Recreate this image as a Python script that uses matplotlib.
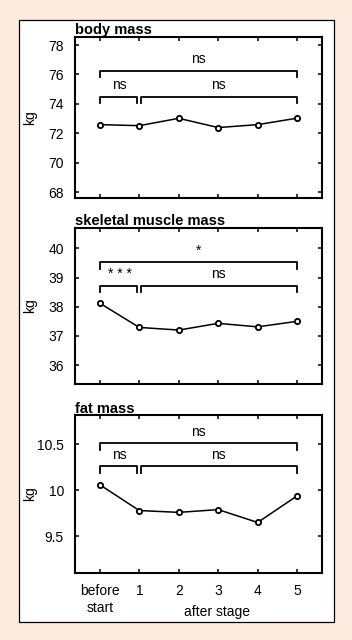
import matplotlib.pyplot as plt
from matplotlib.patches import Rectangle

plt.rcParams['font.family'] = ['Liberation Sans', 'DejaVu Sans']

# data
x_labels = ['before\nstart', '1', '2', '3', '4', '5']
body_mass = [72.59, 72.52, 73.02, 72.39, 72.59, 73.03]
muscle_mass = [38.12, 37.29, 37.2, 37.43, 37.31, 37.5]
fat_mass = [10.06, 9.78, 9.76, 9.79, 9.65, 9.94]

titles = ['body mass', 'skeletal muscle mass', 'fat mass']
series = [body_mass, muscle_mass, fat_mass]
ylims = [(67.6, 78.55), (35.35, 40.7), (9.1, 10.82)]
yticks = [[68, 70, 72, 74, 76, 78], [36, 37, 38, 39, 40], [9.5, 10, 10.5]]
ytlabels = [['68', '70', '72', '74', '76', '78'], ['36', '37', '38', '39', '40'], ['9.5', '10', '10.5']]
# brackets: (top bracket y, lower bracket y, leg length)
brackets = [(76.26, 74.5, 0.42), (39.53, 38.71, 0.22), (10.51, 10.26, 0.068)]
sig_labels = [('ns', 'ns', 'ns'), ('*', '* * *', 'ns'), ('ns', 'ns', 'ns')]

W, H = 352, 640
fig = plt.figure(figsize=(W / 100, H / 100), dpi=100)
fig.patch.set_facecolor('#fdebdf')

# white inner box
box = Rectangle((19 / W, 1 - 622 / H), 315 / W, 602 / H,
                transform=fig.transFigure, facecolor='white',
                edgecolor='black', linewidth=0.9, zorder=-10)
fig.add_artist(box)

panels_px = [(37, 198), (228, 384), (415, 573)]
left, right = 75, 322
xs = list(range(len(x_labels)))
fs = 10

for i, (top, bot) in enumerate(panels_px):
    ax = fig.add_axes([left / W, 1 - bot / H, (right - left) / W, (bot - top) / H])
    ax.set_facecolor('none')
    ax.plot(xs, series[i], color='black', lw=1.1, marker='o', ms=3.8,
            mfc='white', mec='black', mew=1.3, zorder=3)
    ax.set_xlim(-0.63, 5.63)
    ax.set_ylim(*ylims[i])
    ax.set_yticks(yticks[i])
    ax.set_yticklabels(ytlabels[i])
    ax.set_xticks(xs)
    if i == 2:
        ax.set_xticklabels(x_labels, fontsize=fs, linespacing=1.25)
        ax.set_xlabel('after stage', fontsize=fs)
        ax.xaxis.set_label_coords(0.575, -0.2)
    else:
        ax.set_xticklabels([])
    ax.tick_params(direction='in', top=True, right=True, length=3, width=1.1,
                   labelsize=fs, pad=8)
    for s in ax.spines.values():
        s.set_linewidth(1.5)
    ax.set_ylabel('kg', fontsize=fs)
    ax.yaxis.set_label_coords(-0.155, 0.5)
    ax.set_title(titles[i], fontsize=10.5, fontweight='bold', loc='left', pad=1.5)

    ytop, ylow, leg = brackets[i]
    lab_top, lab_l, lab_r = sig_labels[i]
    kw = dict(color='black', lw=1.3)
    ax.plot([0, 0, 5, 5], [ytop - leg, ytop, ytop, ytop - leg], **kw)
    ax.plot([0, 0, 0.95, 0.95], [ylow - leg, ylow, ylow, ylow - leg], **kw)
    ax.plot([1.05, 1.05, 5, 5], [ylow - leg, ylow, ylow, ylow - leg], **kw)
    yr = ylims[i][1] - ylims[i][0]
    ax.text(2.5, ytop + 0.03 * yr, lab_top, ha='center', va='bottom', fontsize=fs)
    ax.text(0.5, ylow + 0.03 * yr, lab_l, ha='center', va='bottom', fontsize=fs)
    ax.text(3.0, ylow + 0.03 * yr, lab_r, ha='center', va='bottom', fontsize=fs)

fig.savefig('out.png', dpi=100, facecolor=fig.get_facecolor())
